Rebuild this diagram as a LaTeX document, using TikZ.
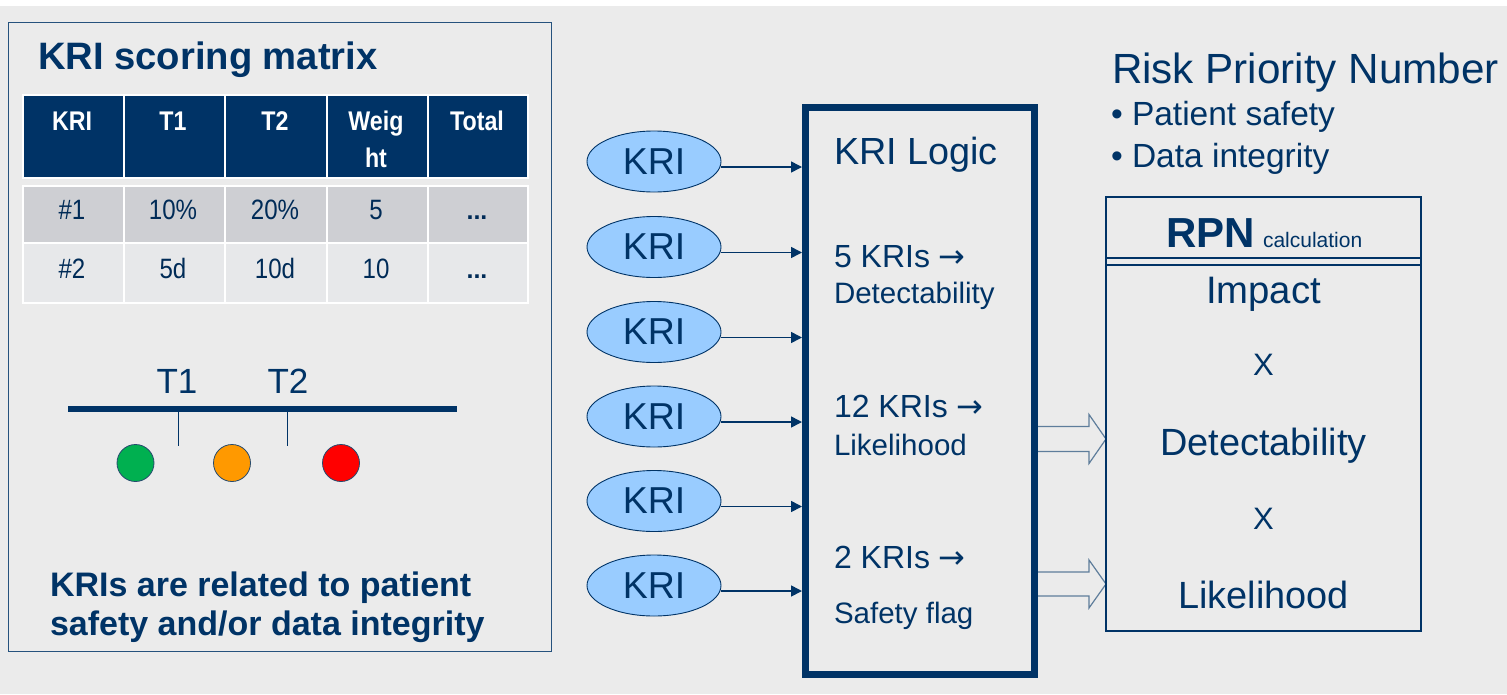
\documentclass[tikz,border=0pt]{standalone}
\usepackage{fontspec}
\setmainfont{Liberation Sans}
\newfontfamily\condfont[FakeStretch=0.86]{Liberation Sans}
\newfontfamily\arrfont{DejaVu Sans}
\usetikzlibrary{arrows.meta,calc,shapes.geometric}
\definecolor{navy}{RGB}{0,51,102}
\definecolor{bg}{RGB}{235,235,235}
\definecolor{rowa}{RGB}{206,207,211}
\definecolor{rowb}{RGB}{231,232,234}
\definecolor{kriblue}{RGB}{153,204,255}
\definecolor{tlgreen}{RGB}{0,176,80}
\definecolor{tlorange}{RGB}{255,153,0}
\definecolor{tlred}{RGB}{255,0,0}
\newcommand{\fs}[1]{\fontsize{#1}{#1}\selectfont}
\newcommand{\rarr}{{\arrfont →}}
\tikzset{
  txt/.style={inner sep=0pt, outer sep=0pt, text=navy, anchor=base west},
  ctxt/.style={inner sep=0pt, outer sep=0pt, text=navy, anchor=base},
  hcell/.style={draw=white, line width=2pt, fill=navy},
  acell/.style={draw=white, line width=2pt, fill=rowa},
  bcell/.style={draw=white, line width=2pt, fill=rowb},
  htxt/.style={inner sep=0pt, text=white, anchor=base, font=\condfont\bfseries\fs{27}},
  btxt/.style={inner sep=0pt, text=navy!85!black, anchor=base, font=\condfont\fs{28}},
  kri/.style={ellipse, draw=navy, line width=0.9pt, fill=kriblue, minimum width=134pt, minimum height=61pt, inner sep=0pt, text=navy, font=\fs{37.5}},
  kriarrow/.style={draw=navy, line width=1.6pt, -{Triangle[length=11pt,width=11pt]}},
  hollow/.style={draw=navy!60!bg, line width=1.2pt, fill=bg},
  dot/.style={circle, draw=navy!70!gray, line width=0.8pt, minimum size=37pt, inner sep=0pt}
}
\begin{document}
\begin{tikzpicture}[x=1pt,y=-1pt]
\useasboundingbox (0,0) rectangle (1507,694);
\fill[white] (0,0) rectangle (1507,694);
\fill[bg] (0,6) rectangle (1507,694);

% ---------- left panel ----------
\node[draw=navy!85, line width=1.4pt, minimum width=543pt, minimum height=629pt, inner sep=0pt, anchor=north west] (panel) at (8,22) {};
\node[txt, font=\bfseries\fs{38.2}] (title) at (38,69) {KRI scoring matrix};

% table
\foreach \x/\w [count=\i] in {22/101,123/101,224/102,326/101,427/100}{
  \node[hcell, anchor=north west, minimum width=\w pt, minimum height=83pt, inner sep=0pt] (h\i) at (\x,94) {};
  \node[acell, anchor=north west, minimum width=\w pt, minimum height=57pt, inner sep=0pt] (a\i) at (\x,185) {};
  \node[bcell, anchor=north west, minimum width=\w pt, minimum height=60pt, inner sep=0pt] (b\i) at (\x,242) {};
}
\node[htxt] at (72,130) {KRI};
\node[htxt] at (173,130) {T1};
\node[htxt] at (275,130) {T2};
\node[htxt] at (376,130) {Weig};
\node[htxt] at (376,167) {ht};
\node[htxt] at (477,130) {Total};
\node[btxt] at (72,219) {\#1};
\node[btxt] at (173,219) {10\%};
\node[btxt] at (275,219) {20\%};
\node[btxt] at (376,219) {5};
\node[btxt, font=\bfseries\fs{25}] at (477,219) {...};
\node[btxt] at (72,278) {\#2};
\node[btxt] at (173,278) {5d};
\node[btxt] at (275,278) {10d};
\node[btxt] at (376,278) {10};
\node[btxt, font=\bfseries\fs{25}] at (477,278) {...};

% thresholds
\coordinate (tlA) at (68,409);
\coordinate (tlB) at (457,409);
\draw[navy, line width=6pt] (tlA) -- (tlB);
\coordinate (t1top) at (178.5,412);
\coordinate (t2top) at (287.5,412);
\draw[navy, line width=1.6pt] (t1top) -- ++(0,34);
\draw[navy, line width=1.6pt] (t2top) -- ++(0,34);
\node[ctxt, font=\fs{35}] (lt1) at (177,393) {T1};
\node[ctxt, font=\fs{35}] (lt2) at (288,393) {T2};
\node[dot, fill=tlgreen] (g) at (135.5,463) {};
\node[dot, fill=tlorange] (o) at (232,463) {};
\node[dot, fill=tlred] (r) at (341,463) {};

\node[txt, font=\bfseries\fs{34}] (note1) at (50,596) {KRIs are related to patient};
\node[txt, font=\bfseries\fs{34}] (note2) at (50,635) {safety and/or data integrity};

% ---------- hollow arrows ----------
\coordinate (ha) at (1035,439);
\coordinate (hb) at (1035,584);
\draw[hollow] (ha) ++(0,-12.5) -- (1089,426.5) -- (1089,414.5) -- (1106,439) -- (1089,463.5) -- (1089,451.5) -- ($(ha)+(0,12.5)$);
\draw[hollow] (hb) ++(0,-12) -- (1089,572) -- (1089,560) -- (1106,584) -- (1089,608) -- (1089,596) -- ($(hb)+(0,12)$);

% ---------- KRI logic box ----------
\node[draw=navy, line width=7pt, minimum width=229pt, minimum height=567pt, inner sep=0pt] (logic) at (920,391) {};
\node[txt, font=\fs{37.8}] (l1) at (834,164) {KRI Logic};
\node[txt, font=\fs{32}] (l2) at (834,267) {5 KRIs \rarr};
\node[txt, font=\fs{29.5}] (l3) at (834,303) {Detectability};
\node[txt, font=\fs{32}] (l4) at (834,417) {12 KRIs \rarr};
\node[txt, font=\fs{29.5}] (l5) at (834,455) {Likelihood};
\node[txt, font=\fs{32}] (l6) at (834,568) {2 KRIs \rarr};
\node[txt, font=\fs{29.5}] (l7) at (834,623) {Safety flag};

% ---------- KRI ellipses ----------
\foreach \y [count=\i] in {161.5,247,332,416.5,501,585.5}{
  \node[kri] (k\i) at (654,\y) {KRI};
  \draw[kriarrow] ([yshift=-5.5pt]k\i.east) -- ([yshift=-5.5pt]k\i.east -| logic.west);
}

% ---------- RPN ----------
\node[txt, font=\fs{42.2}] (rpnt) at (1112,83) {Risk Priority Number};
\node[txt, font=\fs{33.5}] (b1) at (1111,125) {\textbullet\ Patient safety};
\node[txt, font=\fs{33.5}] (b2) at (1111,167) {\textbullet\ Data integrity};

\node[draw=navy, line width=1.4pt, minimum width=315pt, minimum height=434pt, inner sep=0pt] (rpn) at (1263.5,414) {};
\coordinate (d1) at (1106,258);
\coordinate (d2) at (1106,265);
\draw[navy, line width=1.4pt] (d1) -- (d1 -| rpn.east);
\draw[navy, line width=1.4pt] (d2) -- (d2 -| rpn.east);
\node[txt, font=\bfseries\fs{42}] (rpnh) at (1166,247) {RPN};
\node[txt, font=\fs{21}] (calc) at (1263,247) {calculation};
\node[ctxt, font=\fs{38.3}] (f1) at (1263.5,303) {Impact};
\node[ctxt, font=\fs{31}] (x1) at (1263.5,375) {X};
\node[ctxt, font=\fs{37.9}] (f2) at (1263.5,455) {Detectability};
\node[ctxt, font=\fs{31}] (x2) at (1263.5,529) {X};
\node[ctxt, font=\fs{37.9}] (f3) at (1263.5,608) {Likelihood};
\end{tikzpicture}
\end{document}
